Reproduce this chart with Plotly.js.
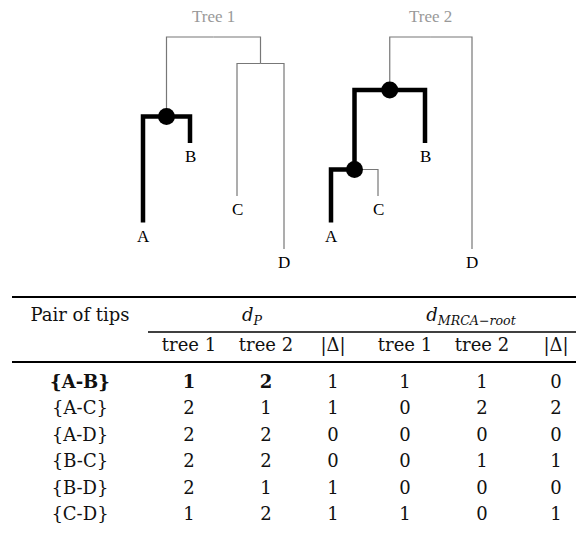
<!DOCTYPE html>
<html><head><meta charset="utf-8">
<script src="https://cdn.plot.ly/plotly-3.0.1.min.js"></script>
<style>html,body{margin:0;padding:0;background:#fff}</style>
</head><body><div id="chart" style="width:576px;height:537px"></div>
<script>
// ---------- Tree data ----------
const tips = ['A','B','C','D'];
const tree1Nodes     = ['root','AB','CD','A','B','C','D'];
const tree1Parent    = [null,'root','root','AB','AB','CD','CD'];
const tree1Depth     = [0,3,1,7,4,6,8];
const tree1TipOrder  = ['A','B','C','D'];
const tree1Highlight = ['A','B'];
const tree1MRCA      = ['AB'];

const tree2Nodes     = ['root','ABC','AC','A','B','C','D'];
const tree2Parent    = [null,'root','ABC','AC','ABC','AC','root'];
const tree2Depth     = [0,2,5,7,4,6,8];
const tree2TipOrder  = ['A','C','B','D'];
const tree2Highlight = ['AC','A','B'];
const tree2MRCA      = ['ABC','AC'];

const treeTitles = ['Tree 1','Tree 2'];

// ---------- Table data ----------
const pairs    = ['{A-B}','{A-C}','{A-D}','{B-C}','{B-D}','{C-D}'];
const dP_tree1 = [1,2,2,2,2,1];
const dP_tree2 = [2,1,2,2,1,2];
const dP_delta = [1,1,0,0,1,1];
const dM_tree1 = [1,0,0,0,0,1];
const dM_tree2 = [1,2,0,1,0,0];
const dM_delta = [0,2,0,1,0,1];
const rowHeader   = 'Pair of tips';
const groupHeaders = ['<i>d</i><sub><i>P</i></sub>', '<i>d</i><sub><i>MRCA</i>−<i>root</i></sub>'];
const subHeaders  = ['tree 1','tree 2','|Δ|','tree 1','tree 2','|Δ|'];
const boldRow = 0;
const boldCols = [0,1,2]; // label, dP tree1, dP tree2

// ---------- layout constants ----------
const SERIF = 'Liberation Serif';
const TAB = 'DejaVu Serif';
const tabSize = 18;
const colX = [80, 189, 266, 333, 405, 482, 556];
const treeOffsets = [0, 4];

function buildTree(nodes, parent, depth, order, hi, mrca, off) {
  const kids = {}; nodes.forEach((n,i)=>{ if(parent[i]){ (kids[parent[i]]=kids[parent[i]]||[]).push(n);} });
  const X = {}, Y = {};
  nodes.forEach((n,i)=>Y[n]=depth[i]);
  function xOf(n){ if(X[n]!==undefined) return X[n];
    if(!kids[n]) { X[n] = order.indexOf(n) + off; return X[n]; }
    const xs = kids[n].map(xOf); X[n] = xs.reduce((a,b)=>a+b,0)/xs.length; return X[n]; }
  nodes.forEach(xOf);
  const thin = {x:[],y:[]}, thick = {x:[],y:[]};
  nodes.forEach((n,i)=>{ const p = parent[i]; if(!p) return;
    const t = hi.includes(n) ? thick : thin;
    t.x.push(X[p], X[n], X[n], null); t.y.push(Y[p], Y[p], Y[n], null); });
  return {X,Y,thin,thick,mrca:{x:mrca.map(m=>X[m]), y:mrca.map(m=>Y[m])},
          tips:{x:tips.map(t=>X[t]), y:tips.map(t=>Y[t])}};
}
const trees = [
  buildTree(tree1Nodes,tree1Parent,tree1Depth,tree1TipOrder,tree1Highlight,tree1MRCA,treeOffsets[0]),
  buildTree(tree2Nodes,tree2Parent,tree2Depth,tree2TipOrder,tree2Highlight,tree2MRCA,treeOffsets[1])
];

const traces = [];
trees.forEach(t=>{
  traces.push({type:'scatter',mode:'lines',x:t.thin.x,y:t.thin.y,line:{color:'#777',width:1.2},hoverinfo:'skip',xaxis:'x',yaxis:'y'});
});
trees.forEach(t=>{
  traces.push({type:'scatter',mode:'lines',x:t.thick.x,y:t.thick.y,line:{color:'#000',width:4.5},hoverinfo:'skip',xaxis:'x',yaxis:'y'});
  traces.push({type:'scatter',mode:'markers',x:t.mrca.x,y:t.mrca.y,marker:{color:'#000',size:17},hoverinfo:'skip',xaxis:'x',yaxis:'y'});
});

// table columns
const cols = [pairs,dP_tree1,dP_tree2,dP_delta,dM_tree1,dM_tree2,dM_delta];
cols.forEach((c,ci)=>{
  traces.push({type:'scatter',mode:'text',xaxis:'x2',yaxis:'y2',
    x:c.map(()=>colX[ci]), y:c.map((_,r)=>r),
    text:c.map((v,r)=> (r===boldRow && boldCols.includes(ci)) ? '<b>'+v+'</b>' : String(v)),
    textposition:'middle center', textfont:{family:TAB,size:tabSize,color:'#111'},hoverinfo:'skip'});
});
traces.push({type:'scatter',mode:'text',xaxis:'x2',yaxis:'y2',
  x:[colX[0], 252, 471],
  y:[-2.5,-2.5,-2.5], text:[rowHeader].concat(groupHeaders),
  textposition:'middle center', textfont:{family:TAB,size:tabSize,color:'#111'},hoverinfo:'skip'});
traces.push({type:'scatter',mode:'text',xaxis:'x2',yaxis:'y2',
  x:colX.slice(1), y:subHeaders.map(()=>-1.37), text:subHeaders,
  textposition:'middle center', textfont:{family:TAB,size:tabSize,color:'#111'},hoverinfo:'skip'});

const rule = (x0,x1,y,w)=>({type:'line',xref:'x2',yref:'y2',x0:x0,x1:x1,y0:y,y1:y,line:{color:'#000',width:w}});
const rowStep = 26.5, row0 = 383;
const ry = p => (p-row0)/rowStep;

const annotations = [];
trees.forEach((t,i)=>{
  annotations.push({xref:'x',yref:'y',x:t.X['root'],y:t.Y['root'],yshift:21,showarrow:false,
     text:treeTitles[i],font:{family:SERIF,size:17,color:'#999'},xanchor:'center',yanchor:'middle'});
  tips.forEach((tp,k)=>annotations.push({xref:'x',yref:'y',x:t.tips.x[k],y:t.tips.y[k],yshift:-2,showarrow:false,
     text:tp,font:{family:SERIF,size:17,color:'#000'},xanchor:'center',yanchor:'top'}));
});

const layout = {
  width:576, height:537, margin:{l:0,r:0,t:0,b:0}, showlegend:false,
  paper_bgcolor:'#fff', plot_bgcolor:'rgba(0,0,0,0)',
  xaxis:{range:[-143/47, 433/47], visible:false, domain:[0,1], anchor:'y', fixedrange:true},
  yaxis:{range:[(537-37)/26.5, -37/26.5], visible:false, domain:[0,1], anchor:'x', fixedrange:true},
  xaxis2:{range:[0,576], visible:false, domain:[0,1], anchor:'y2', fixedrange:true},
  yaxis2:{range:[ry(537), ry(0)], visible:false, domain:[0,1], anchor:'x2', fixedrange:true},
  shapes:[ rule(12,576,ry(297),2), rule(148,576,ry(332),1.3), rule(12,576,ry(362),2) ],
  annotations: annotations
};
Plotly.newPlot('chart', traces, layout, {staticPlot:true, displayModeBar:false});
</script></body></html>
